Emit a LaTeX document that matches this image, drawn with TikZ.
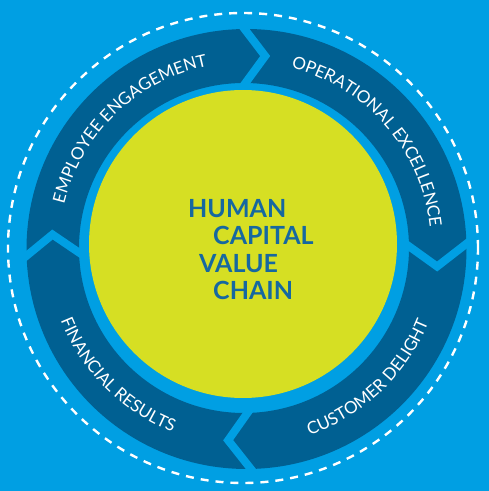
\documentclass[tikz,border=0pt]{standalone}
\usepackage{fontspec}
\setmainfont{Lato}
\usetikzlibrary{decorations.text}
\definecolor{bgblue}{RGB}{0,159,227}
\definecolor{ringblue}{RGB}{0,96,146}
\definecolor{lime}{RGB}{214,223,35}
\definecolor{txtblue}{RGB}{22,104,160}
\newcommand\ringfmt{\fontsize{17}{20}\selectfont}
\tikzset{
  ringtext/.style={decorate, decoration={text along path, text align=center, text color=white, text={|\ringfmt|#1}}},
  centertext/.style={anchor=base west, inner sep=0pt, text=txtblue, font=\bfseries\fontsize{25}{25}\selectfont},
  chevron/.style={draw=bgblue, line width=8pt, miter limit=10},
}
\begin{document}
\begin{tikzpicture}[x=1pt,y=1pt]
\useasboundingbox (0,0) rectangle (489,491);
\fill[bgblue] (0,0) rectangle (489,491);
\coordinate (C) at (245,243);
% dark ring
\fill[ringblue, even odd rule] (246.5,242) circle[radius=220] (244,243) circle[radius=165];
% chevron separators
\foreach \s in {92,2.5,184,273}{
  \path[chevron] ([shift={(\s:229)}]C) -- ([shift={(\s-8:193)}]C) -- ([shift={(\s:157)}]C);
}
% dashed circle
\draw[white, line width=2.4pt, dash pattern=on 8pt off 7pt] (243,243) circle[radius=235];
% centre disc
\fill[lime] (243,247) circle[radius=154];
% ring labels
\path[ringtext={EMPLOYEE ENGAGEMENT}] ([shift={(194:186)}]C) arc[start angle=194, end angle=74, radius=186];
\path[ringtext={OPERATIONAL EXCELLENCE}] ([shift={(101:186)}]C) arc[start angle=101, end angle=-19, radius=186];
\path[ringtext={FINANCIAL RESULTS}] ([shift={(165:198)}]C) arc[start angle=165, end angle=285, radius=198];
\path[ringtext={CUSTOMER DELIGHT}] ([shift={(253.5:198)}]C) arc[start angle=253.5, end angle=373.5, radius=198];
% centre text
\node[centertext] (human) at (188,273) {HUMAN};
\node[centertext] (capital) at (213,246) {CAPITAL};
\node[centertext] (value) at (199,218) {VALUE};
\node[centertext] (chain) at (213,191) {CHAIN};
\end{tikzpicture}
\end{document}
